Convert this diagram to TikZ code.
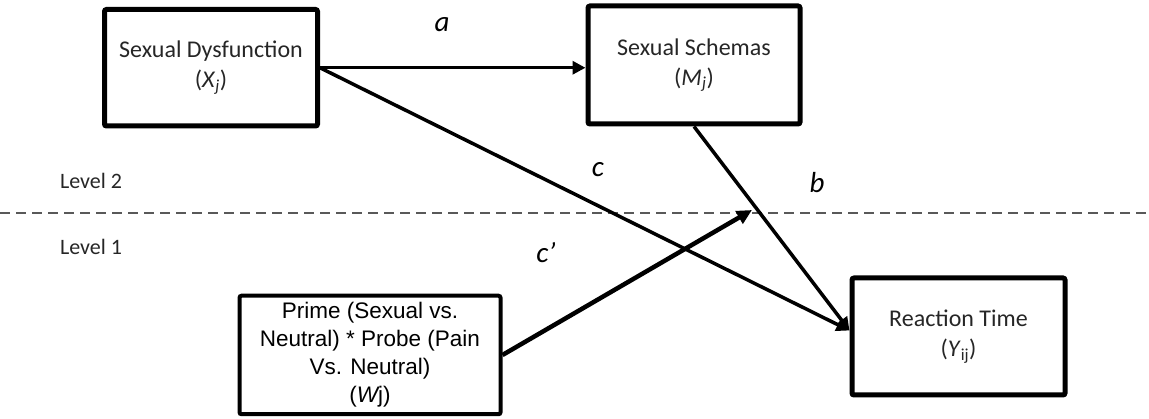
\documentclass[tikz,border=0pt]{standalone}
\usepackage{fontspec}
\setmainfont{Carlito}
\newfontfamily\arialf{Liberation Sans}
\usetikzlibrary{arrows.meta}
\begin{document}
\begin{tikzpicture}[x=1pt,y=-1pt,
  box/.style={draw, line width=5pt, rounded corners=2pt, fill=white, inner sep=0pt,
    align=center, text=black!85, font=\fontsize{24}{30}\selectfont},
  arr/.style={line width=3.5pt, -{Triangle[length=13pt,width=13pt]}},
  lab/.style={font=\fontsize{29}{30}\selectfont\itshape, inner sep=0pt},
  lev/.style={font=\fontsize{22}{24}\selectfont, text=black!85, inner sep=0pt}]
\useasboundingbox (0,0) rectangle (1149,419);
\draw[black!65, line width=1.5pt, dash pattern=on 10pt off 6pt] (0,213) -- (1149,213);

\node[box, minimum width=213pt, minimum height=116.5pt] (X) at (211,67.75)
  {Sexual Dysfunction\\(\textit{X}\textsubscript{\textit{j}})};
\node[box, minimum width=212pt, minimum height=118pt] (M) at (694,65)
  {Sexual Schemas\\(\textit{M}\textsubscript{\textit{j}})};
\node[box, minimum width=213pt, minimum height=117pt] (Y) at (958.5,336.5)
  {Reaction Time\\(\textit{Y}\textsubscript{ij})};
\node[box, line width=4pt, minimum width=261pt, minimum height=118.5pt, text=black,
  font=\arialf\fontsize{22.5}{28}\selectfont] (W) at (370,355)
  {Prime (Sexual vs.\\Neutral) * Probe (Pain\\Vs. Neutral)\\({\itshape W}j)};

\coordinate (yin) at ([yshift=6pt]Y.west);
\coordinate (cptip) at (752,210);

\draw[arr] (X.east) -- (X.east -| M.west);
\draw[arr] (X.east) -- (yin);
\draw[arr] (M.south) -- (yin);
\draw[line width=4.5pt, -{Triangle[length=15pt,width=14pt]}] (W.east) -- (cptip);

\node[lab] (la) at (442,25) {a};
\node[lab] (lc) at (598,170) {c};
\node[lab] (lb) at (817,183) {b};
\node[lab] (lcp) at (546,253) {c’};
\node[lev] (l2) at (91,181) {Level 2};
\node[lev] (l1) at (91,247) {Level 1};
\end{tikzpicture}
\end{document}
